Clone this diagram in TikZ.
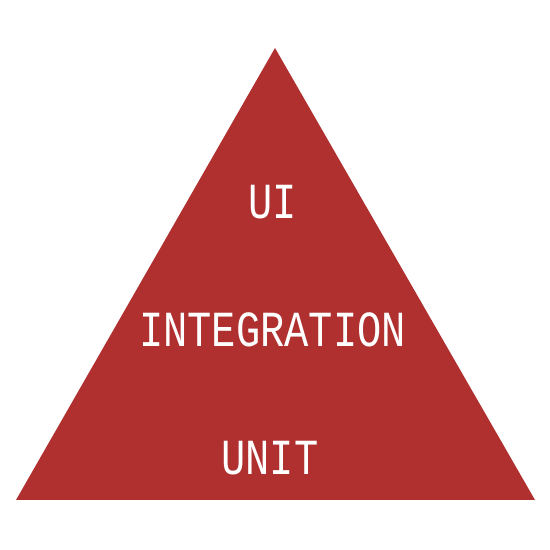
\documentclass[tikz,border=0pt]{standalone}
\usepackage{fontspec}
\setmonofont{Liberation Mono}
\definecolor{pyramidred}{RGB}{176,48,48}
\tikzset{
	level/.style={text=white,font=\ttfamily\fontsize{23}{23}\selectfont,inner sep=0pt}
}
\newcommand{\tallword}[1]{\scalebox{1}[1.25]{#1}}

\begin{document}
\begin{tikzpicture}
		\useasboundingbox (0,0) rectangle (11,11);
		\fill[pyramidred] (0.32,1.0) -- (10.7,1.0) -- (5.5,10.04) -- cycle;
		\node[level] (ui) at (5.45,6.96) {\tallword{UI}};
		\node[level] (integration) at (5.45,4.4) {\tallword{INTEGRATION}};
		\node[level] (unit) at (5.4,1.84) {\tallword{UNIT}};
	\end{tikzpicture}
\end{document}
